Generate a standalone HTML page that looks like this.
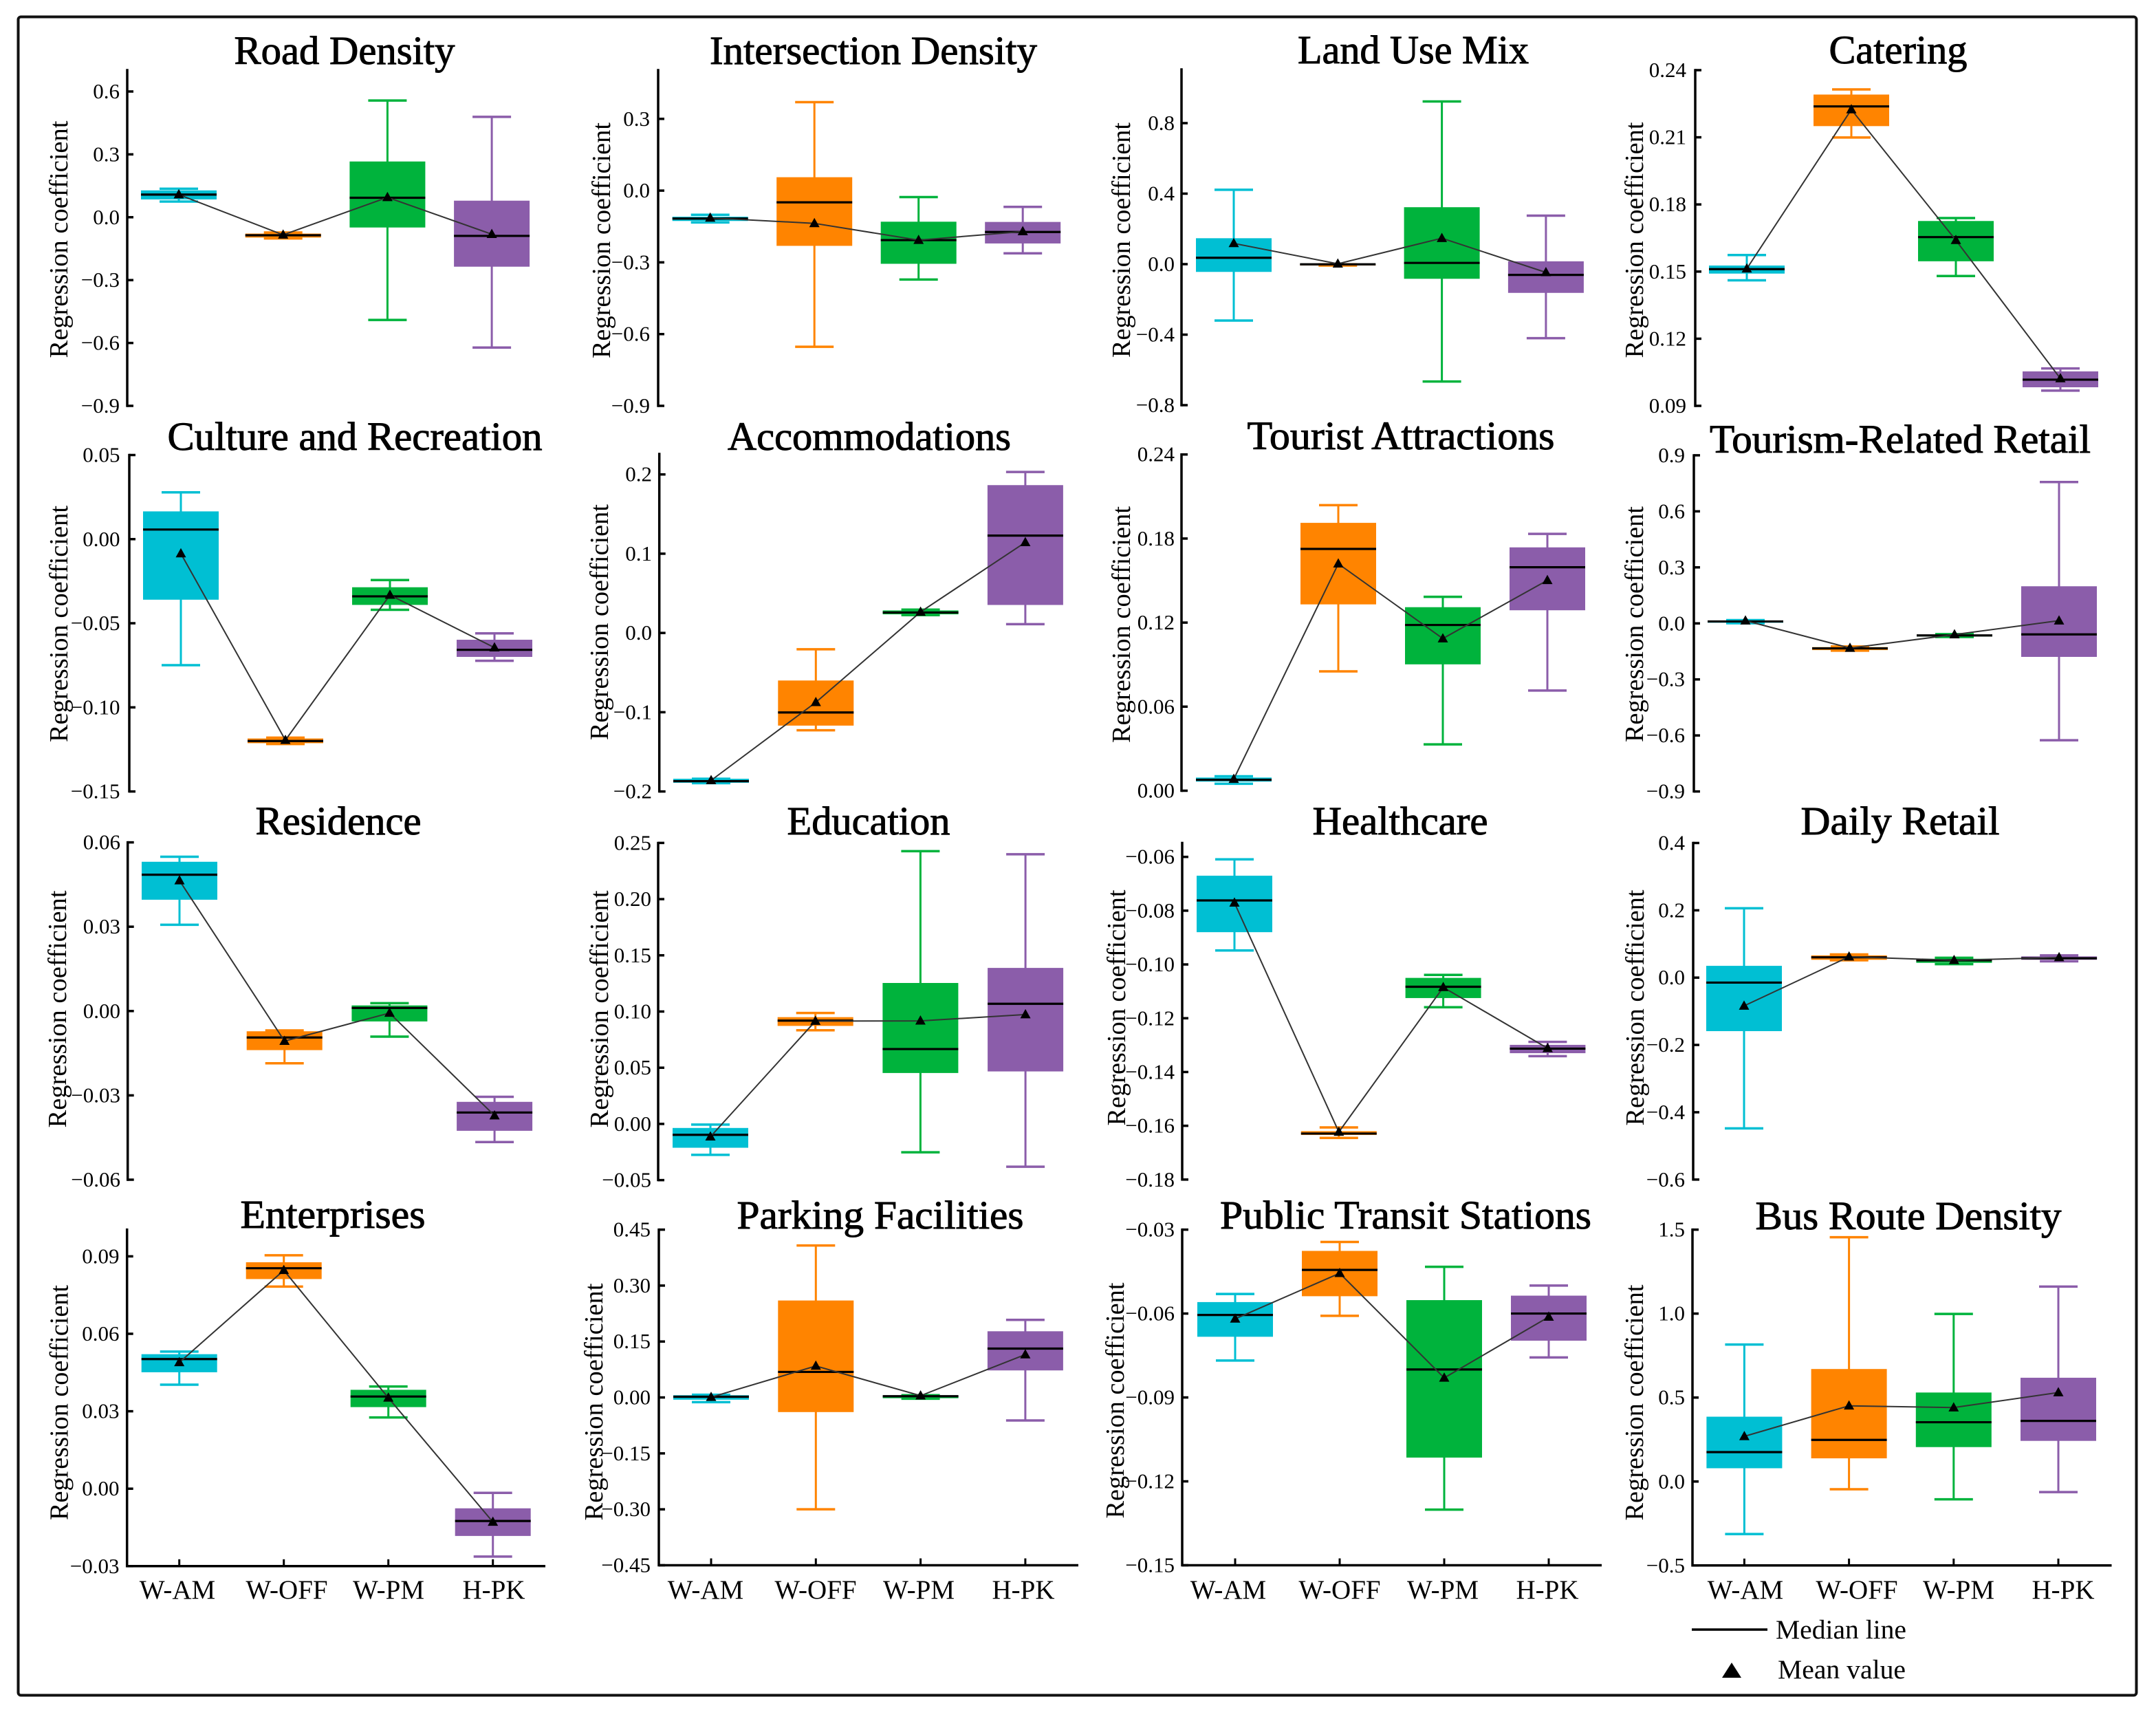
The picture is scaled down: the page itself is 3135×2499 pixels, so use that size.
<!DOCTYPE html>
<html lang="en">
<head>
<meta charset="utf-8">
<title>Regression coefficients by period</title>
<style>
html,body{margin:0;padding:0;background:#fff;}
svg{display:block;}
text{font-family:"Liberation Serif",serif;fill:#000;}
.title{font-size:58px;stroke:#000;stroke-width:1px;text-anchor:middle;}
.ylab{font-size:38.5px;text-anchor:middle;}
.xlab{font-size:39px;text-anchor:middle;}
.leg{font-size:39px;}
.tick{font-size:31px;text-anchor:end;}
</style>
</head>
<body>
<svg id="figure" xmlns="http://www.w3.org/2000/svg" width="3135" height="2499" viewBox="0 0 3135 2499">
<rect x="0" y="0" width="3135" height="2499" fill="#fff"/>
<rect x="26.5" y="24.5" width="3080" height="2440" rx="4" ry="4" fill="none" stroke="#111" stroke-width="4"/>

<text class="title" x="501" y="93" textLength="321" lengthAdjust="spacingAndGlyphs">Road Density</text>
<text class="title" x="1270" y="93" textLength="476" lengthAdjust="spacingAndGlyphs">Intersection Density</text>
<text class="title" x="2055" y="92" textLength="336" lengthAdjust="spacingAndGlyphs">Land Use Mix</text>
<text class="title" x="2760" y="92" textLength="201" lengthAdjust="spacingAndGlyphs">Catering</text>
<text class="title" x="516" y="654" textLength="545" lengthAdjust="spacingAndGlyphs">Culture and Recreation</text>
<text class="title" x="1264" y="654" textLength="412" lengthAdjust="spacingAndGlyphs">Accommodations</text>
<text class="title" x="2037" y="653" textLength="447" lengthAdjust="spacingAndGlyphs">Tourist Attractions</text>
<text class="title" x="2763" y="658" textLength="554" lengthAdjust="spacingAndGlyphs">Tourism-Related Retail</text>
<text class="title" x="492" y="1213" textLength="241" lengthAdjust="spacingAndGlyphs">Residence</text>
<text class="title" x="1263" y="1213" textLength="237" lengthAdjust="spacingAndGlyphs">Education</text>
<text class="title" x="2036" y="1213" textLength="255" lengthAdjust="spacingAndGlyphs">Healthcare</text>
<text class="title" x="2763" y="1213" textLength="289" lengthAdjust="spacingAndGlyphs">Daily Retail</text>
<text class="title" x="484" y="1785" textLength="269" lengthAdjust="spacingAndGlyphs">Enterprises</text>
<text class="title" x="1280" y="1786" textLength="417" lengthAdjust="spacingAndGlyphs">Parking Facilities</text>
<text class="title" x="2044" y="1786" textLength="540" lengthAdjust="spacingAndGlyphs">Public Transit Stations</text>
<text class="title" x="2775" y="1787" textLength="445" lengthAdjust="spacingAndGlyphs">Bus Route Density</text>

<text class="ylab" transform="translate(98,348) rotate(-90)" textLength="345" lengthAdjust="spacingAndGlyphs">Regression coefficient</text>
<text class="ylab" transform="translate(887,349.5) rotate(-90)" textLength="343" lengthAdjust="spacingAndGlyphs">Regression coefficient</text>
<text class="ylab" transform="translate(1643,349) rotate(-90)" textLength="342" lengthAdjust="spacingAndGlyphs">Regression coefficient</text>
<text class="ylab" transform="translate(2389,349) rotate(-90)" textLength="343" lengthAdjust="spacingAndGlyphs">Regression coefficient</text>
<text class="ylab" transform="translate(98,907) rotate(-90)" textLength="344" lengthAdjust="spacingAndGlyphs">Regression coefficient</text>
<text class="ylab" transform="translate(884,904.5) rotate(-90)" textLength="343" lengthAdjust="spacingAndGlyphs">Regression coefficient</text>
<text class="ylab" transform="translate(1643,908) rotate(-90)" textLength="344" lengthAdjust="spacingAndGlyphs">Regression coefficient</text>
<text class="ylab" transform="translate(2389,907.5) rotate(-90)" textLength="343" lengthAdjust="spacingAndGlyphs">Regression coefficient</text>
<text class="ylab" transform="translate(96,1467) rotate(-90)" textLength="345" lengthAdjust="spacingAndGlyphs">Regression coefficient</text>
<text class="ylab" transform="translate(884,1467) rotate(-90)" textLength="345" lengthAdjust="spacingAndGlyphs">Regression coefficient</text>
<text class="ylab" transform="translate(1636,1465) rotate(-90)" textLength="343" lengthAdjust="spacingAndGlyphs">Regression coefficient</text>
<text class="ylab" transform="translate(2390,1465) rotate(-90)" textLength="343" lengthAdjust="spacingAndGlyphs">Regression coefficient</text>
<text class="ylab" transform="translate(98.5,2039) rotate(-90)" textLength="342" lengthAdjust="spacingAndGlyphs">Regression coefficient</text>
<text class="ylab" transform="translate(876,2038) rotate(-90)" textLength="345" lengthAdjust="spacingAndGlyphs">Regression coefficient</text>
<text class="ylab" transform="translate(1634,2036) rotate(-90)" textLength="343" lengthAdjust="spacingAndGlyphs">Regression coefficient</text>
<text class="ylab" transform="translate(2389,2039) rotate(-90)" textLength="343" lengthAdjust="spacingAndGlyphs">Regression coefficient</text>

<text class="xlab" x="258" y="2324">W-AM</text>
<text class="xlab" x="417" y="2324">W-OFF</text>
<text class="xlab" x="565" y="2324">W-PM</text>
<text class="xlab" x="718" y="2324">H-PK</text>
<text class="xlab" x="1026" y="2324">W-AM</text>
<text class="xlab" x="1186" y="2324">W-OFF</text>
<text class="xlab" x="1336" y="2324">W-PM</text>
<text class="xlab" x="1488" y="2324">H-PK</text>
<text class="xlab" x="1786" y="2324">W-AM</text>
<text class="xlab" x="1948" y="2324">W-OFF</text>
<text class="xlab" x="2098" y="2324">W-PM</text>
<text class="xlab" x="2250" y="2324">H-PK</text>
<text class="xlab" x="2538" y="2324">W-AM</text>
<text class="xlab" x="2700" y="2324">W-OFF</text>
<text class="xlab" x="2848" y="2324">W-PM</text>
<text class="xlab" x="3000" y="2324">H-PK</text>

<g>
<line x1="2460" y1="2369" x2="2570" y2="2369" stroke="#000" stroke-width="3.5"/>
<text class="leg" x="2582" y="2382" textLength="190" lengthAdjust="spacingAndGlyphs">Median line</text>
<polygon points="2518,2417 2532,2439 2504,2439" fill="#000"/>
<text class="leg" x="2585" y="2440" textLength="186" lengthAdjust="spacingAndGlyphs">Mean value</text>
</g>

<g id="panels"></g>
</svg>

<script>
const categories = ['W-AM', 'W-OFF', 'W-PM', 'H-PK'];
const panelSlugs = ['road-density', 'intersection-density', 'land-use-mix', 'catering', 'culture-and-recreation', 'accommodations', 'tourist-attractions', 'tourism-related-retail', 'residence', 'education', 'healthcare', 'daily-retail', 'enterprises', 'parking-facilities', 'public-transit-stations', 'bus-route-density'];

const tickLabels = [
  ['0.6', '0.3', '0.0', '\u22120.3', '\u22120.6', '\u22120.9'],
  ['0.3', '0.0', '\u22120.3', '\u22120.6', '\u22120.9'],
  ['0.8', '0.4', '0.0', '\u22120.4', '\u22120.8'],
  ['0.24', '0.21', '0.18', '0.15', '0.12', '0.09'],
  ['0.05', '0.00', '\u22120.05', '\u22120.10', '\u22120.15'],
  ['0.2', '0.1', '0.0', '\u22120.1', '\u22120.2'],
  ['0.24', '0.18', '0.12', '0.06', '0.00'],
  ['0.9', '0.6', '0.3', '0.0', '\u22120.3', '\u22120.6', '\u22120.9'],
  ['0.06', '0.03', '0.00', '\u22120.03', '\u22120.06'],
  ['0.25', '0.20', '0.15', '0.10', '0.05', '0.00', '\u22120.05'],
  ['\u22120.06', '\u22120.08', '\u22120.10', '\u22120.12', '\u22120.14', '\u22120.16', '\u22120.18'],
  ['0.4', '0.2', '0.0', '\u22120.2', '\u22120.4', '\u22120.6'],
  ['0.09', '0.06', '0.03', '0.00', '\u22120.03'],
  ['0.45', '0.30', '0.15', '0.00', '\u22120.15', '\u22120.30', '\u22120.45'],
  ['\u22120.03', '\u22120.06', '\u22120.09', '\u22120.12', '\u22120.15'],
  ['1.5', '1.0', '0.5', '0.0', '\u22120.5']
];

const whiskerHigh = [
  [0.136, -0.073, 0.557, 0.479],
  [-0.101, 0.37, -0.027, -0.068],
  [0.422, -0.001, 0.923, 0.275],
  [0.1574, 0.2314, 0.1739, 0.1067],
  [0.0278, -0.118, -0.0243, -0.056],
  [-0.184, -0.0206, 0.0294, 0.2031],
  [0.0103, 0.2038, 0.1384, 0.1833],
  [0.0173, -0.124, -0.0575, 0.757],
  [0.0549, -0.0069, 0.0028, -0.0305],
  [-0.0006, 0.0987, 0.2427, 0.2399],
  [-0.0609, -0.1606, -0.1039, -0.1288],
  [0.206, 0.069, 0.059, 0.066],
  [0.0531, 0.0904, 0.0396, -0.0016],
  [0.0073, 0.4075, 0.006, 0.208],
  [-0.053, -0.0344, -0.0433, -0.05],
  [0.816, 1.455, 0.998, 1.161]
];
const whiskerLow = [
  [0.075, -0.101, -0.49, -0.622],
  [-0.133, -0.653, -0.372, -0.262],
  [-0.32, -0.008, -0.666, -0.42],
  [0.1461, 0.2099, 0.148, 0.0968],
  [-0.0749, -0.1218, -0.042, -0.0723],
  [-0.1895, -0.1228, 0.0225, 0.0111],
  [0.005, 0.0852, 0.0331, 0.0715],
  [0.0007, -0.146, -0.0727, -0.6256],
  [0.0307, -0.0186, -0.0091, -0.0466],
  [-0.0275, 0.0833, -0.0252, -0.0381],
  [-0.0948, -0.1645, -0.1159, -0.1341],
  [-0.448, 0.0515, 0.04, 0.0486],
  [0.0403, 0.0783, 0.0276, -0.0263],
  [-0.0126, -0.2998, -0.0033, -0.0618],
  [-0.0768, -0.0608, -0.1301, -0.0757],
  [-0.313, -0.046, -0.106, -0.063]
];
const quartileUpper = [
  [0.128, -0.078, 0.266, 0.079],
  [-0.109, 0.056, -0.13, -0.131],
  [0.147, -0.001, 0.323, 0.016],
  [0.1527, 0.2291, 0.1726, 0.1054],
  [0.0165, -0.1185, -0.0286, -0.0598],
  [-0.184, -0.06, 0.0284, 0.1865],
  [0.0094, 0.1912, 0.131, 0.1737],
  [0.0145, -0.127, -0.06, 0.1988],
  [0.0531, -0.0072, 0.002, -0.0323],
  [-0.0036, 0.095, 0.1254, 0.1388],
  [-0.067, -0.162, -0.105, -0.1299],
  [0.035, 0.066, 0.056, 0.063],
  [0.0521, 0.0877, 0.0383, -0.0076],
  [0.006, 0.26, 0.0047, 0.1775],
  [-0.0559, -0.0376, -0.0552, -0.0536],
  [0.386, 0.67, 0.53, 0.618]
];
const quartileLower = [
  [0.085, -0.097, -0.049, -0.236],
  [-0.127, -0.231, -0.306, -0.221],
  [-0.044, -0.007, -0.083, -0.163],
  [0.1491, 0.215, 0.1546, 0.0983],
  [-0.036, -0.1213, -0.0391, -0.07],
  [-0.189, -0.1169, 0.0235, 0.0353],
  [0.0065, 0.133, 0.0902, 0.1288],
  [0.0035, -0.143, -0.07, -0.1794],
  [0.0396, -0.0139, -0.0037, -0.0426],
  [-0.0212, 0.0872, 0.0453, 0.0467],
  [-0.088, -0.1634, -0.1125, -0.133],
  [-0.159, 0.053, 0.044, 0.053],
  [0.0451, 0.0812, 0.0316, -0.0183],
  [-0.006, -0.0392, -0.002, 0.0725],
  [-0.0683, -0.0538, -0.1115, -0.0697],
  [0.079, 0.138, 0.205, 0.242]
];
const medians = [
  [0.108, -0.086, 0.093, -0.089],
  [-0.117, -0.049, -0.207, -0.173],
  [0.036, -0.001, 0.007, -0.061],
  [0.1511, 0.2238, 0.1654, 0.1017],
  [0.0057, -0.12, -0.034, -0.0658],
  [-0.187, -0.1003, 0.0258, 0.1228],
  [0.0078, 0.1726, 0.1183, 0.1595],
  [0.0104, -0.1337, -0.0644, -0.0589],
  [0.0485, -0.0094, 0.0011, -0.0361],
  [-0.0097, 0.0919, 0.0666, 0.1069],
  [-0.0762, -0.1629, -0.1083, -0.1313],
  [-0.0147, 0.0604, 0.0515, 0.0574],
  [0.0502, 0.0854, 0.0357, -0.0125],
  [0.002, 0.0685, 0.0033, 0.131],
  [-0.0605, -0.0444, -0.08, -0.06],
  [0.175, 0.248, 0.353, 0.361]
];
const means = [
  [0.108, -0.084, 0.095, -0.081],
  [-0.114, -0.137, -0.207, -0.171],
  [0.118, 0.002, 0.147, -0.047],
  [0.1513, 0.2224, 0.164, 0.1022],
  [-0.0086, -0.1195, -0.0332, -0.0645],
  [-0.186, -0.0875, 0.0265, 0.1143],
  [0.0083, 0.162, 0.1086, 0.1502],
  [0.0145, -0.132, -0.06, 0.0145],
  [0.0464, -0.0107, -0.0007, -0.0372],
  [-0.0114, 0.0915, 0.0917, 0.0973],
  [-0.0771, -0.1623, -0.1085, -0.1312],
  [-0.084, 0.062, 0.0515, 0.06],
  [0.0489, 0.0846, 0.0352, -0.0129],
  [0.0007, 0.0844, 0.0047, 0.115],
  [-0.0619, -0.0456, -0.083, -0.0612],
  [0.269, 0.451, 0.44, 0.53]
];

/* Layout only: axisX, firstCenter, centerStep, axisTop, firstTickY, lastTickY, labelRight, xAxisEnd */
const panelLayout = [
  [185, 260, 151.7, 102, 133, 590, 174, 0],
  [957, 1032.7, 151.5, 102, 172.8, 590, 945, 0],
  [1718, 1794, 151.3, 101, 179, 589, 1708, 0],
  [2465, 2540, 152, 102, 102, 590, 2452, 0],
  [188, 263, 152, 661.5, 661.5, 1150.6, 174.5, 0],
  [958.7, 1034, 152.3, 660, 689.7, 1150.6, 948, 0],
  [1718, 1794, 152, 660.7, 660.7, 1149.5, 1708, 0],
  [2463, 2538, 152, 661.9, 661.9, 1150.6, 2450, 0],
  [185.7, 261, 152.7, 1224.6, 1224.6, 1715, 175, 0],
  [957, 1033, 152.7, 1225.4, 1225.4, 1715.6, 947, 0],
  [1719, 1795, 151.8, 1225.5, 1245.7, 1714.8, 1708, 0],
  [2462, 2536, 152.7, 1225.5, 1225.5, 1714.8, 2450, 0],
  [184.7, 260.7, 152, 1787.6, 1826.4, 2276.8, 173.5, 793],
  [958, 1034, 152.3, 1787.6, 1787.6, 2275.5, 946, 1568],
  [1719, 1796, 152, 1787.6, 1787.6, 2275.5, 1708, 2329],
  [2461, 2536.4, 152.2, 1787.6, 1787.6, 2275.8, 2450, 3070.5]
];
const seriesColors = ['#00BFD3', '#FF8400', '#00B33C', '#8B5DAA'];
const BOX_W = 110, CAP_W = 56, TICK_LEN = 9;

const SVGNS = 'http://www.w3.org/2000/svg';
function mk(tag, attrs, parent) {
  const el = document.createElementNS(SVGNS, tag);
  for (const k in attrs) el.setAttribute(k, attrs[k]);
  parent.appendChild(el);
  return el;
}
function tickValue(label) {
  return parseFloat(label.replace('\u2212', '-'));
}

const panelsRoot = document.getElementById('panels');

panelSlugs.forEach(function (slug, p) {
  const [axisX, firstCenter, centerStep, axisTop, firstTickY, lastTickY, labelRight, xAxisEnd] = panelLayout[p];
  const labels = tickLabels[p];
  const domainHigh = tickValue(labels[0]);
  const domainLow = tickValue(labels[labels.length - 1]);
  const yScale = function (v) {
    return firstTickY + (domainHigh - v) / (domainHigh - domainLow) * (lastTickY - firstTickY);
  };
  const xScale = function (i) {
    return firstCenter + i * centerStep;
  };

  const g = mk('g', {}, panelsRoot);
  
  

  const yAxis = mk('line', { x1: axisX, y1: axisTop - 1.7, x2: axisX, y2: lastTickY + 1.7, stroke: '#000', 'stroke-width': 3.5 }, g);
  
  

  labels.forEach(function (lab) {
    const ty = yScale(tickValue(lab));
    const tm = mk('line', { x1: axisX, y1: ty, x2: axisX + TICK_LEN, y2: ty, stroke: '#000', 'stroke-width': 3.5 }, g);
    
    
    const tl = mk('text', { x: labelRight, y: ty + 10, class: 'tick' }, g);
    
    
    tl.textContent = lab;
  });

  if (xAxisEnd > 0) {
    const xAxis = mk('line', { x1: axisX, y1: lastTickY, x2: xAxisEnd, y2: lastTickY, stroke: '#000', 'stroke-width': 3.5 }, g);
    
    
    categories.forEach(function (c, i) {
      const xt = mk('line', { x1: xScale(i), y1: lastTickY, x2: xScale(i), y2: lastTickY - 10, stroke: '#000', 'stroke-width': 3 }, g);
      
      
    });
  }

  categories.forEach(function (c, i) {
    const cx = xScale(i);
    const col = seriesColors[i];
    const catSlug = c.toLowerCase();

    const whisker = mk('line', { x1: cx, y1: yScale(whiskerHigh[p][i]), x2: cx, y2: yScale(whiskerLow[p][i]), stroke: col, 'stroke-width': 3 }, g);
    
    

    const capHigh = mk('line', { x1: cx - CAP_W / 2, y1: yScale(whiskerHigh[p][i]), x2: cx + CAP_W / 2, y2: yScale(whiskerHigh[p][i]), stroke: col, 'stroke-width': 3.5 }, g);
    
    

    const capLow = mk('line', { x1: cx - CAP_W / 2, y1: yScale(whiskerLow[p][i]), x2: cx + CAP_W / 2, y2: yScale(whiskerLow[p][i]), stroke: col, 'stroke-width': 3.5 }, g);
    
    

    const boxTop = yScale(quartileUpper[p][i]);
    const boxBottom = yScale(quartileLower[p][i]);
    const box = mk('rect', { x: cx - BOX_W / 2, y: boxTop, width: BOX_W, height: Math.max(0, boxBottom - boxTop), fill: col }, g);
    
    

    const median = mk('line', { x1: cx - BOX_W / 2, y1: yScale(medians[p][i]), x2: cx + BOX_W / 2, y2: yScale(medians[p][i]), stroke: '#000', 'stroke-width': 3.2 }, g);
    
    
  });

  const pts = categories.map(function (c, i) {
    return xScale(i).toFixed(1) + ',' + yScale(means[p][i]).toFixed(1);
  }).join(' ');
  const meanLine = mk('polyline', { points: pts, fill: 'none', stroke: '#333', 'stroke-width': 2 }, g);
  
  

  categories.forEach(function (c, i) {
    const mx = xScale(i);
    const my = yScale(means[p][i]);
    const tri = mk('polygon', { points: mx + ',' + (my - 8) + ' ' + (mx + 7.5) + ',' + (my + 5.5) + ' ' + (mx - 7.5) + ',' + (my + 5.5), fill: '#000' }, g);
    
    
  });
});
</script>
</body>
</html>
